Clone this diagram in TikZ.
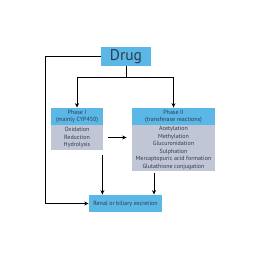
\documentclass[tikz,border=0pt]{standalone}
\usepackage{fontspec}
\setmainfont{PT Sans}
\usetikzlibrary{arrows.meta}
\definecolor{hdblue}{HTML}{5AB7E6}
\definecolor{bodygrey}{HTML}{C0C6D6}
\definecolor{txt}{HTML}{2F3B4C}
\begin{document}
\begin{tikzpicture}[x=1pt,y=-1pt,font=\fontsize{6}{7.5}\selectfont,
  box/.style={fill=hdblue,text=txt,inner sep=0pt,align=center},
  body/.style={fill=bodygrey,text=txt,inner sep=0pt,align=center},
  line width=.8pt,>={Stealth[length=4.5pt,width=4pt]}]
\useasboundingbox[fill=white] (0,0) rectangle (260,280);
\node[box,minimum width=50pt,minimum height=19pt,font=\fontsize{15.5}{17}\selectfont] at (126,56.5) (drug) {Drug};
\node[box,minimum width=52pt,minimum height=17pt] at (77,116.5) (p1head) {Phase I\\(mainly CYP450)};
\node[body,minimum width=52pt,minimum height=25pt] at (77,137.5) (p1body) {Oxidation\\Reduction\\Hydrolysis};
\node[box,minimum width=83pt,minimum height=17pt] at (173.5,116.5) (p2head) {Phase II\\(transferase reactions)};
\node[body,minimum width=83pt,minimum height=46pt] at (173.5,148) (p2body) {Acetylation\\Methylation\\Glucuronidation\\Sulphation\\Mercaptopuric acid formation\\Glutathione conjugation};
\node[box,minimum width=73pt,minimum height=17pt] at (125.5,203.5) (renal) {Renal or biliary excretion};
\coordinate (split) at (126,77);
\coordinate (lcorner) at (45,56.5);
% connectors
\draw (drug.south)--(split);
\draw[->] (split)-|(p1head.north);
\draw[->] (split)-|(p2head.north);
\draw[->] (drug.west)--(lcorner)|-(renal.west);
\draw[->,shorten <=5pt,shorten >=5pt] (p1body.east)--(p1body.east -| p2body.west);
\draw[->] ([xshift=-1pt,yshift=-5pt]p1body.south east)--([xshift=-1pt]p1body.south east |- renal.north);
\draw[->] ([xshift=-19.5pt,yshift=-2pt]p2body.south)--([xshift=-19.5pt]p2body.south |- renal.north);
\end{tikzpicture}
\end{document}
